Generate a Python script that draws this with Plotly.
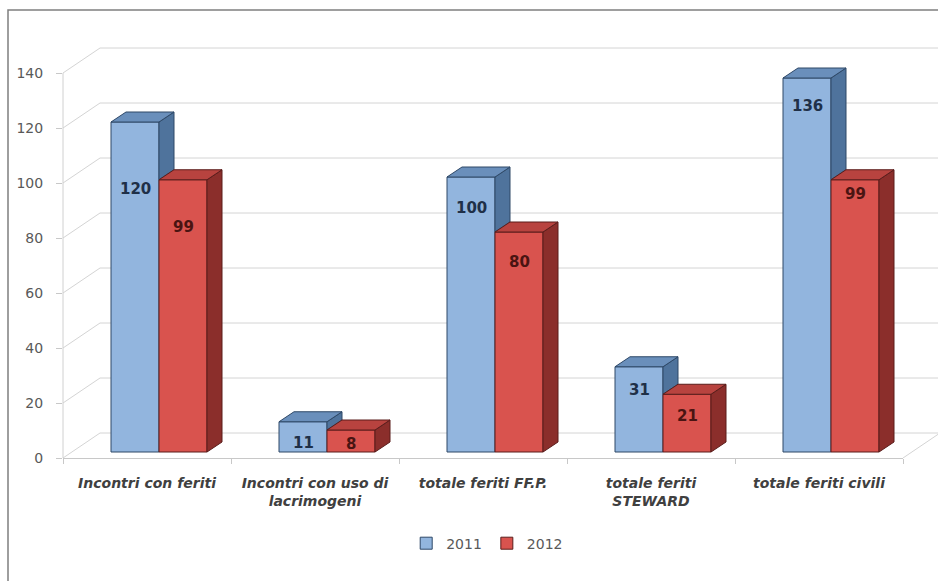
import plotly.graph_objects as go

categories = ["Incontri con feriti", "Incontri con uso di<br>lacrimogeni",
              "totale feriti FF.P.", "totale feriti<br>STEWARD", "totale feriti civili"]
series_names = ["2011", "2012"]
values_2011 = [120, 11, 100, 31, 136]
values_2012 = [99, 8, 80, 21, 99]
y_ticks = [0, 20, 40, 60, 80, 100, 120, 140]

# ---- styling / geometry (pixels) ----
W, H = 938, 581
ML, MR, MT, MB = 63, 35, 30, 123
plot_w = W - ML - MR            # 840
plot_h = H - MT - MB            # 428
px_per_unit = 2.75
y_top = plot_h / px_per_unit
bar_lift_units = 6 / px_per_unit          # bars sit slightly back on the floor
cat_px = plot_w / len(categories)
bar_w = 48 / cat_px
bar_offsets = [-36 / cat_px, -36 / cat_px + bar_w]
depth_dx = 15 / cat_px
depth_dy = 10 / px_per_unit
wall_dx = 37 / plot_w
wall_dy = 25 / px_per_unit
wall_right = (W - ML) / plot_w

front_cols = ["#92b5de", "#d9534e"]
top_cols = ["#6a8fbb", "#b8433f"]
side_cols = ["#4f739c", "#8b2e2b"]
edge_cols = ["#2e4867", "#5a1d1b"]
label_cols = ["#1f3048", "#4a1412"]
label_drop = [[67, 21, 31, 23, 28], [47, 14, 30, 22, 14]]

xs = list(range(len(categories)))
series = [values_2011, values_2012]

fig = go.Figure()
for k, name in enumerate(series_names):
    fig.add_trace(go.Bar(
        x=xs, y=series[k], name=name, yaxis="y2",
        offset=bar_offsets[k], width=bar_w,
        marker=dict(color=front_cols[k], line=dict(color=edge_cols[k], width=1)),
        hoverinfo="y+name",
    ))

shapes = []
# frame
shapes.append(dict(type="rect", xref="paper", yref="paper",
                   x0=(8 - ML) / plot_w, x1=1.2, y0=-0.5, y1=(plot_h + MT - 10) / plot_h,
                   line=dict(color="#7f7f7f", width=1.5), layer="below"))
# back wall gridlines (with diagonal to front axis)
for v in y_ticks:
    shapes.append(dict(type="path", xref="paper", yref="y", layer="below",
                       path=f"M 0,{v} L {wall_dx},{v + wall_dy} L {wall_right},{v + wall_dy}",
                       line=dict(color="#d4d4d4", width=1)))
# floor right edge
shapes.append(dict(type="line", xref="paper", yref="y", layer="below",
                   x0=1, y0=0, x1=1 + wall_dx, y1=wall_dy,
                   line=dict(color="#d4d4d4", width=1)))
# front vertical axis line
shapes.append(dict(type="line", xref="paper", yref="y", layer="below",
                   x0=0, y0=0, x1=0, y1=y_ticks[-1],
                   line=dict(color="#d0d0d0", width=1)))

# 3D faces of bars
for i in xs:
    for k in range(2):
        v = series[k][i]
        x0 = i + bar_offsets[k]
        x1 = x0 + bar_w
        low = series[1][i] if k == 0 else 0
        low = min(low, v)
        shapes.append(dict(type="path", xref="x", yref="y2", layer="above",
                           path=(f"M {x1},{low} L {x1},{v} L {x1 + depth_dx},{v + depth_dy} "
                                 f"L {x1 + depth_dx},{low + depth_dy} Z"),
                           fillcolor=side_cols[k], line=dict(color=edge_cols[k], width=1)))
        shapes.append(dict(type="path", xref="x", yref="y2", layer="above",
                           path=(f"M {x0},{v} L {x1},{v} L {x1 + depth_dx},{v + depth_dy} "
                                 f"L {x0 + depth_dx},{v + depth_dy} Z"),
                           fillcolor=top_cols[k], line=dict(color=edge_cols[k], width=1)))

annotations = []
for k in range(2):
    for i in xs:
        v = series[k][i]
        annotations.append(dict(
            x=i + bar_offsets[k] + bar_w / 2, y=v, xref="x", yref="y2",
            text=str(v), showarrow=False, yshift=-label_drop[k][i],
            font=dict(family="DejaVu Sans", size=15, color=label_cols[k], weight="bold")))

fig.update_layout(
    width=W, height=H,
    margin=dict(l=ML, r=MR, t=MT, b=MB),
    paper_bgcolor="white", plot_bgcolor="white",
    barmode="overlay",
    showlegend=True,
    legend=dict(orientation="h", x=0.505, xanchor="center", y=-0.2, yanchor="middle",
                font=dict(family="DejaVu Sans", size=14, color="#595959"),
                itemwidth=30, traceorder="normal"),
    xaxis=dict(range=[-0.5, len(categories) - 0.5], tickvals=xs, ticktext=categories,
               showgrid=False, zeroline=False, showline=True, linecolor="#c8c8c8",
               ticks="", ticklabelstandoff=12,
               tickfont=dict(family="DejaVu Sans", size=14, color="#404040",
                             style="italic", weight="bold"),
               minor=dict(tick0=0.5, dtick=1, ticks="outside", ticklen=5, tickcolor="#c8c8c8")),
    yaxis=dict(range=[0, y_top], tickvals=y_ticks, showgrid=False, zeroline=False,
               showline=False, ticks="outside", ticklen=6, tickcolor="#c8c8c8",
               ticklabelstandoff=10,
               tickfont=dict(family="DejaVu Sans", size=14, color="#595959")),
    yaxis2=dict(range=[-bar_lift_units, y_top - bar_lift_units], overlaying="y",
                visible=False),
    shapes=shapes,
    annotations=annotations,
)

fig.write_html("out.html")
